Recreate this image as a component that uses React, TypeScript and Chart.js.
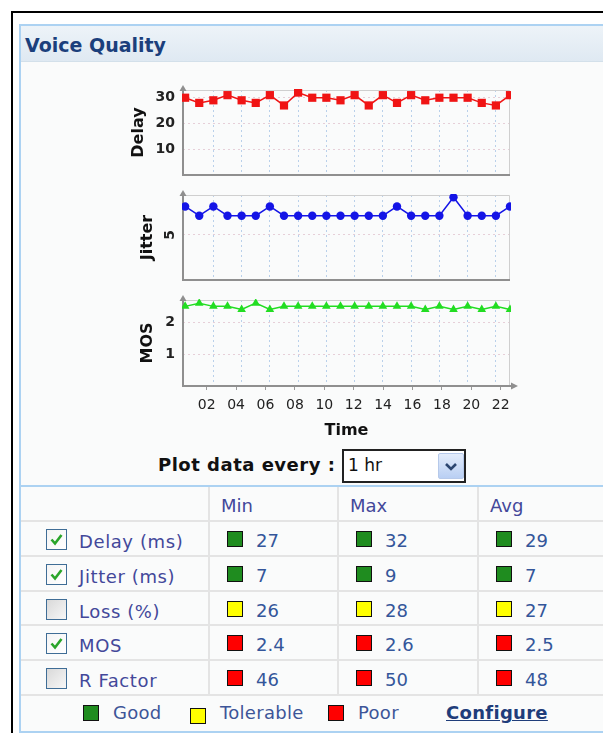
import React, { useEffect, useRef } from 'react';
import { Chart, registerables } from 'chart.js';

Chart.register(...registerables);

// ---------- data ----------
const hours = [0, 1, 2, 3, 4, 5, 6, 7, 8, 9, 10, 11, 12, 13, 14, 15, 16, 17, 18, 19, 20, 21, 22, 23];
const xTickHours = [2, 4, 6, 8, 10, 12, 14, 16, 18, 20, 22];
const delayValues = [30, 28, 29, 31, 29, 28, 31, 27, 32, 30, 30, 29, 31, 27, 31, 28, 31, 29, 30, 30, 30, 28, 27, 31];
const jitterValues = [8, 7, 8, 7, 7, 7, 8, 7, 7, 7, 7, 7, 7, 7, 7, 8, 7, 7, 7, 9, 7, 7, 7, 8];
const mosValues = [2.5, 2.6, 2.5, 2.5, 2.4, 2.6, 2.4, 2.5, 2.5, 2.5, 2.5, 2.5, 2.5, 2.5, 2.5, 2.5, 2.5, 2.4, 2.5, 2.4, 2.5, 2.4, 2.5, 2.4];
const delayTicks = [10, 20, 30];
const jitterTicks = [5];
const mosTicks = [1, 2];

const metricLabels = ['Delay (ms)', 'Jitter (ms)', 'Loss (%)', 'MOS', 'R Factor'];
const metricChecked = [true, true, false, true, false];
const minValues = ['27', '7', '26', '2.4', '46'];
const maxValues = ['32', '9', '28', '2.6', '50'];
const avgValues = ['29', '7', '27', '2.5', '48'];
const metricStatus = ['good', 'good', 'tolerable', 'poor', 'poor'];
const statusNames = ['Good', 'Tolerable', 'Poor'];
const statusKeys = ['good', 'tolerable', 'poor'];
const columnHeaders = ['Min', 'Max', 'Avg'];

const FONT = "'DejaVu Sans', Verdana, sans-serif";
const statusColor: Record<string, string> = { good: '#1f8c1f', tolerable: '#ffff00', poor: '#ff0000' };

// ---------- chart ----------
type PanelSpec = {
  title: string;
  values: number[];
  yTicks: number[];
  yMax: number;
  color: string;
  pointStyle: string;
  pointRadius: number;
  padLeft: number;
  yWidth: number;
  showX: boolean;
  xHeight: number;
  padBottom: number;
  tickRotation: number;
  tickPadding: number;
  tickOffset: number;
  left: number;
  top: number;
  width: number;
  height: number;
};

function clearPad(s: any) {
  s.paddingTop = 0;
  s.paddingBottom = 0;
  s.paddingLeft = 0;
  s.paddingRight = 0;
}

function framePlugin(arrowRight: boolean) {
  return {
    id: 'frame',
    beforeDatasetsDraw(chart: any) {
      const { ctx, chartArea: a } = chart;
      ctx.save();
      ctx.lineWidth = 1;
      ctx.strokeStyle = '#cfcfcf';
      ctx.beginPath();
      ctx.moveTo(a.left, a.top + 0.5);
      ctx.lineTo(a.right - 0.5, a.top + 0.5);
      ctx.lineTo(a.right - 0.5, a.bottom);
      ctx.stroke();
      ctx.strokeStyle = '#8f8f8f';
      ctx.lineWidth = 2;
      ctx.beginPath();
      ctx.moveTo(a.left, a.top - 1);
      ctx.lineTo(a.left, a.bottom);
      ctx.lineTo(arrowRight ? a.right + 3 : a.right, a.bottom);
      ctx.stroke();
      ctx.fillStyle = '#8f8f8f';
      ctx.beginPath();
      ctx.moveTo(a.left, a.top - 5);
      ctx.lineTo(a.left - 3.5, a.top + 1);
      ctx.lineTo(a.left + 3.5, a.top + 1);
      ctx.closePath();
      ctx.fill();
      if (arrowRight) {
        ctx.beginPath();
        ctx.moveTo(a.right + 8, a.bottom);
        ctx.lineTo(a.right + 1, a.bottom - 3.5);
        ctx.lineTo(a.right + 1, a.bottom + 3.5);
        ctx.closePath();
        ctx.fill();
      }
      ctx.restore();
    },
  };
}

function Panel({ spec }: { spec: PanelSpec }) {
  const ref = useRef<HTMLCanvasElement | null>(null);
  useEffect(() => {
    if (!ref.current) return;
    const scales: any = {
      x: {
        type: 'linear',
        min: -0.15,
        max: 23,
        afterBuildTicks: (s: any) => {
          s.ticks = xTickHours.map((v) => ({ value: v }));
        },
        afterFit: (s: any) => {
          s.height = 0;
          clearPad(s);
        },
        grid: { color: '#b9d0ea', drawTicks: false, lineWidth: 1 },
        border: { display: false, dash: [2, 3] },
        ticks: { display: false },
      },
      y: {
        type: 'linear',
        min: 0,
        max: spec.yMax,
        afterBuildTicks: (s: any) => {
          s.ticks = spec.yTicks.map((v) => ({ value: v }));
        },
        afterFit: (s: any) => {
          s.width = spec.yWidth;
          clearPad(s);
        },
        grid: { color: '#e6cfd8', drawTicks: false, lineWidth: 1 },
        border: { display: false, dash: [2, 3] },
        ticks: {
          padding: spec.tickPadding,
          minRotation: spec.tickRotation,
          maxRotation: spec.tickRotation,
          labelOffset: spec.tickOffset,
          color: '#222',
          font: { family: FONT, size: 14, weight: 'bold' },
        },
        title: {
          display: true,
          text: spec.title,
          color: '#111',
          font: { family: FONT, size: 16, weight: 'bold' },
          padding: 4,
        },
      },
    };
    if (spec.showX) {
      scales.xLabels = {
        type: 'linear',
        position: 'bottom',
        min: 0.39,
        max: 22.63,
        afterBuildTicks: (s: any) => {
          s.ticks = xTickHours.map((v) => ({ value: v }));
        },
        afterFit: (s: any) => {
          s.height = spec.xHeight;
          clearPad(s);
        },
        grid: { drawOnChartArea: false, drawTicks: true, tickLength: 4, color: '#9a9a9a', lineWidth: 1 },
        border: { display: false },
        ticks: {
          autoSkip: false,
          maxRotation: 0,
          padding: 7,
          color: '#222',
          font: { family: FONT, size: 14 },
          callback: (v: any) => String(v).padStart(2, '0'),
        },
        title: {
          display: true,
          text: 'Time',
          color: '#111',
          font: { family: FONT, size: 16, weight: 'bold' },
          padding: { top: 0, bottom: 4 },
        },
      };
    }
    const chart = new Chart(ref.current, {
      type: 'line',
      data: {
        datasets: [
          {
            data: hours.map((h, i) => ({ x: h, y: spec.values[i] })),
            xAxisID: 'x',
            borderColor: spec.color,
            backgroundColor: spec.color,
            borderWidth: 1.5,
            pointStyle: spec.pointStyle as any,
            pointRadius: spec.pointRadius,
            pointBorderWidth: 0,
            tension: 0,
            clip: 1,
          },
        ],
      },
      options: {
        animation: false,
        responsive: false,
        devicePixelRatio: 1,
        events: [],
        layout: {
          autoPadding: false,
          padding: { left: spec.padLeft, right: 20, top: 10, bottom: spec.padBottom },
        },
        plugins: { legend: { display: false }, tooltip: { enabled: false } },
        scales,
      },
      plugins: [framePlugin(spec.showX)],
    } as any);
    return () => chart.destroy();
  }, [spec]);
  return (
    <canvas
      ref={ref}
      width={spec.width}
      height={spec.height}
      style={{ position: 'absolute', left: spec.left, top: spec.top, width: spec.width, height: spec.height }}
    />
  );
}

const panels: PanelSpec[] = [
  {
    title: 'Delay', values: delayValues, yTicks: delayTicks, yMax: 33, color: '#f01414', pointStyle: 'rect', pointRadius: 5.8,
    padLeft: 5, yWidth: 58, showX: false, xHeight: 0, padBottom: 5, tickRotation: 0, tickPadding: 8, tickOffset: 0,
    left: 120, top: 80, width: 410, height: 100,
  },
  {
    title: 'Jitter', values: jitterValues, yTicks: jitterTicks, yMax: 9.25, color: '#1414e6', pointStyle: 'circle', pointRadius: 4.2,
    padLeft: 14, yWidth: 49, showX: false, xHeight: 0, padBottom: 5, tickRotation: 90, tickPadding: 13, tickOffset: -4,
    left: 120, top: 185, width: 410, height: 100,
  },
  {
    title: 'MOS', values: mosValues, yTicks: mosTicks, yMax: 2.7, color: '#22dd22', pointStyle: 'triangle', pointRadius: 5,
    padLeft: 14, yWidth: 49, showX: true, xHeight: 58, padBottom: 0, tickRotation: 0, tickPadding: 8, tickOffset: 0,
    left: 120, top: 290, width: 410, height: 154,
  },
];

// ---------- page pieces ----------
function CheckBox({ checked, left, top }: { checked: boolean; left: number; top: number }) {
  return (
    <div
      style={{
        position: 'absolute', left, top, width: 19, height: 19,
        border: '1px solid #3f6d96',
        background: checked ? 'linear-gradient(135deg, #f4f4f4, #ffffff)' : 'linear-gradient(135deg, #d9d9d9, #f7f7f7)',
      }}
    >
      {checked && (
        <svg width="19" height="19" style={{ position: 'absolute', left: 0, top: 0 }}>
          <polyline points="4.5,9.5 8,13.5 14.5,5" fill="none" stroke="#2aa52a" strokeWidth="2.6" />
        </svg>
      )}
    </div>
  );
}

function Swatch({ status, left, top }: { status: string; left: number; top: number }) {
  return (
    <div
      style={{
        position: 'absolute', left, top, width: 14, height: 14,
        border: '1px solid #111', background: statusColor[status],
      }}
    />
  );
}

const TEXT_BLUE = '#43489a';
const VALUE_BLUE = '#34569a';
const rowTop0 = 521;
const rowH = 34.8;
const colLefts = [208, 337, 477];

export default function App() {
  const valueCols = [minValues, maxValues, avgValues];
  return (
    <div style={{ position: 'absolute', left: 0, top: 0, width: 603, height: 733, overflow: 'hidden', background: '#fff', fontFamily: FONT }}>
      {/* outer black frame */}
      <div style={{ position: 'absolute', left: 11, top: 11, width: 700, height: 800, borderLeft: '2px solid #000', borderTop: '2px solid #000', background: '#fff' }} />
      {/* blue panel */}
      <div style={{ position: 'absolute', left: 19, top: 24, width: 700, height: 705, border: '2px solid #acd2f2', background: '#fafbfb' }} />
      {/* header */}
      <div
        style={{
          position: 'absolute', left: 21, top: 26, width: 700, height: 35,
          background: 'linear-gradient(to bottom, #edf3f8, #dfe9f2)', borderBottom: '1px solid #d3e0ea',
        }}
      />
      <div style={{ position: 'absolute', left: 25, top: 28, height: 35, lineHeight: '35px', fontSize: 19, fontWeight: 'bold', color: '#1b3f7c' }}>
        Voice Quality
      </div>

      {panels.map((p) => (
        <Panel key={p.title} spec={p} />
      ))}

      {/* plot data every */}
      <div style={{ position: 'absolute', left: 158, top: 452, height: 26, lineHeight: '26px', fontSize: 18, fontWeight: 'bold', color: '#111', letterSpacing: 0.5 }}>
        Plot data every :
      </div>
      <div style={{ position: 'absolute', left: 342, top: 449, width: 120, height: 30, border: '2px solid #222', background: '#fff' }} />
      <div style={{ position: 'absolute', left: 348, top: 452, height: 26, lineHeight: '26px', fontSize: 17, color: '#111' }}>1 hr</div>
      <div
        style={{
          position: 'absolute', left: 438, top: 453, width: 24, height: 24,
          background: 'linear-gradient(to bottom, #e3ecfb, #b9cff3)', border: '1px solid #b6c9ea', borderRadius: 2,
        }}
      >
        <svg width="24" height="24" style={{ position: 'absolute', left: 0, top: 0 }}>
          <polyline points="7,10 12,15 17,10" fill="none" stroke="#2c4670" strokeWidth="2.6" />
        </svg>
      </div>

      {/* table */}
      <div style={{ position: 'absolute', left: 21, top: 485, width: 700, height: 2, background: '#acd2f2' }} />
      {colLefts.map((x) => (
        <div key={'v' + x} style={{ position: 'absolute', left: x, top: 487, width: 2, height: rowTop0 + 5 * rowH - 487, background: '#e4e4e4' }} />
      ))}
      {[0, 1, 2, 3, 4, 5].map((i) => (
        <div key={'h' + i} style={{ position: 'absolute', left: 21, top: rowTop0 + i * rowH - 1, width: 700, height: 2, background: '#e4e4e4' }} />
      ))}
      {columnHeaders.map((h, j) => (
        <div key={h} style={{ position: 'absolute', left: colLefts[j] + 13, top: 494, height: 24, lineHeight: '24px', fontSize: 18, color: TEXT_BLUE }}>
          {h}
        </div>
      ))}
      {metricLabels.map((label, i) => {
        const top = rowTop0 + i * rowH;
        return (
          <React.Fragment key={label}>
            <CheckBox checked={metricChecked[i]} left={46} top={top + 8} />
            <div style={{ position: 'absolute', left: 79, top: top + 9, height: 24, lineHeight: '24px', fontSize: 18, color: TEXT_BLUE, letterSpacing: 0.6 }}>
              {label}
            </div>
            {valueCols.map((col, j) => (
              <React.Fragment key={j}>
                <Swatch status={metricStatus[i]} left={colLefts[j] + 19} top={top + 10} />
                <div style={{ position: 'absolute', left: colLefts[j] + 48, top: top + 8, height: 24, lineHeight: '24px', fontSize: 18, color: VALUE_BLUE }}>
                  {col[i]}
                </div>
              </React.Fragment>
            ))}
          </React.Fragment>
        );
      })}

      {/* legend row */}
      {statusKeys.map((k, j) => {
        const sx = [83, 190, 328][j];
        return (
          <React.Fragment key={k}>
            <Swatch status={k} left={sx} top={k === 'tolerable' ? 708 : 705} />
            <div style={{ position: 'absolute', left: sx + 30, top: 701, height: 24, lineHeight: '24px', fontSize: 18, color: '#3d5598', letterSpacing: 0.3 }}>
              {statusNames[j]}
            </div>
          </React.Fragment>
        );
      })}
      <div style={{ position: 'absolute', left: 446, top: 701, height: 24, lineHeight: '24px', fontSize: 18, fontWeight: 'bold', color: '#1f3d7a', textDecoration: 'underline', letterSpacing: 0.3 }}>
        Configure
      </div>
    </div>
  );
}
